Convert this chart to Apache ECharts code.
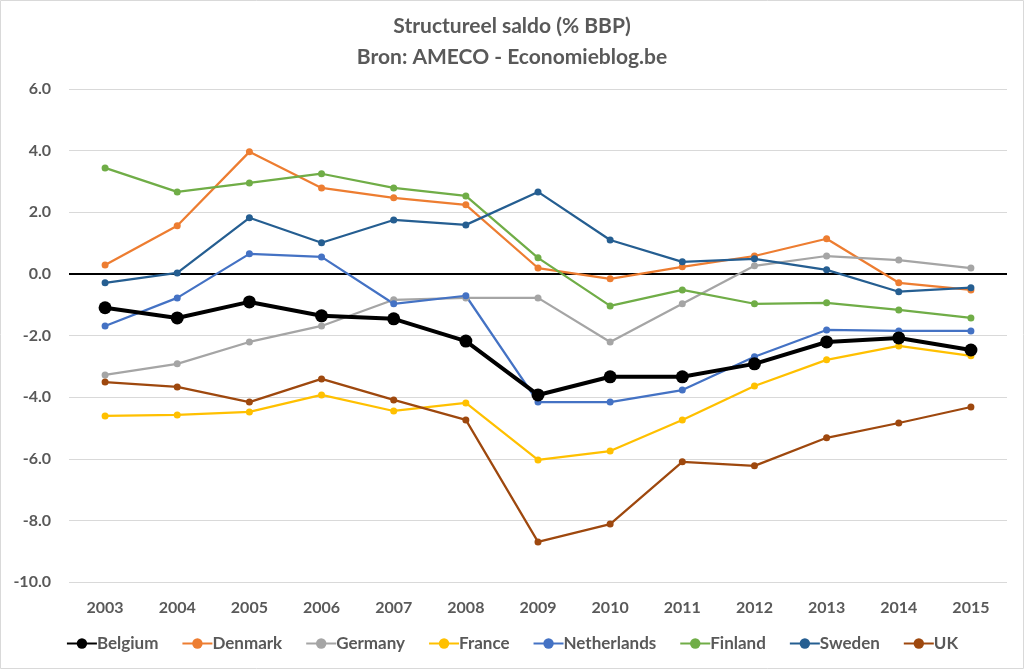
<!DOCTYPE html>
<html>
<head>
<meta charset="utf-8">
<script src="https://cdn.jsdelivr.net/npm/echarts@6/dist/echarts.min.js"></script>
<style>html,body{margin:0;padding:0;background:#fff}#c{width:1024px;height:669px}</style>
</head>
<body>
<div id="c"></div>
<script>
const years = ['2003','2004','2005','2006','2007','2008','2009','2010','2011','2012','2013','2014','2015'];
const belgium     = [-1.10,-1.43,-0.91,-1.36,-1.46,-2.18,-3.93,-3.34,-3.34,-2.92,-2.21,-2.08,-2.47];
const denmark     = [0.29,1.56,3.96,2.79,2.47,2.24,0.19,-0.16,0.23,0.58,1.14,-0.29,-0.52];
const germany     = [-3.28,-2.92,-2.21,-1.69,-0.84,-0.78,-0.78,-2.21,-0.97,0.26,0.58,0.45,0.19];
const france      = [-4.61,-4.58,-4.48,-3.93,-4.45,-4.19,-6.04,-5.75,-4.74,-3.64,-2.79,-2.34,-2.66];
const netherlands = [-1.69,-0.78,0.65,0.55,-0.97,-0.71,-4.16,-4.16,-3.77,-2.69,-1.82,-1.85,-1.85];
const finland     = [3.44,2.66,2.95,3.25,2.79,2.53,0.52,-1.04,-0.52,-0.97,-0.94,-1.17,-1.43];
const sweden      = [-0.29,0.03,1.82,1.01,1.75,1.59,2.66,1.10,0.39,0.49,0.13,-0.58,-0.45];
const uk          = [-3.51,-3.67,-4.16,-3.41,-4.09,-4.74,-8.70,-8.12,-6.10,-6.23,-5.32,-4.84,-4.32];

const names = ['Belgium','Denmark','Germany','France','Netherlands','Finland','Sweden','UK'];
const values = [belgium,denmark,germany,france,netherlands,finland,sweden,uk];
const colors = ['#000000','#ED7D31','#A5A5A5','#FFC000','#4472C4','#70AD47','#255E91','#9E480E'];

const font = 'Lato, "Open Sans", sans-serif';
const series = names.map((n,i)=>{
  const isB = i===0;
  const s = {
    name:n, type:'line', data:values[i],
    symbol:'circle', symbolSize: isB?13:7,
    lineStyle:{color:colors[i], width: isB?4:2.25},
    itemStyle:{color:colors[i]},
    z: isB?5:3
  };
  if (isB) {
    s.markLine = {silent:true, symbol:'none', label:{show:false},
      lineStyle:{color:'#000', width:2, type:'solid'},
      data:[{yAxis:0}], z:2};
  }
  return s;
});

const chart = echarts.init(document.getElementById('c'));
chart.setOption({
  animation:false,
  color:colors,
  graphic:[{type:'rect', shape:{x:0.5,y:0.5,width:1023,height:668}, style:{fill:'none', stroke:'#d9d9d9', lineWidth:1}, silent:true}],
  title:{
    text:'Structureel saldo (% BBP)\nBron: AMECO - Economieblog.be',
    left:'center', top:6,
    textStyle:{fontFamily:font, fontSize:21, fontWeight:'bold', color:'#595959', lineHeight:31}
  },
  legend:{
    bottom:12, left:'center', itemGap:23, itemWidth:30, itemHeight:13,
    textStyle:{fontFamily:font, fontSize:17, fontWeight:'bold', color:'#595959', padding:[0,0,0,-5]},
    data:names
  },
  grid:{left:69, right:17, top:89, bottom:87},
  xAxis:{
    type:'category', data:years, boundaryGap:true,
    axisLine:{show:false}, axisTick:{show:false},
    axisLabel:{fontFamily:font, fontSize:16, fontWeight:'bold', color:'#595959', margin:18}
  },
  yAxis:{
    type:'value', min:-10, max:6, interval:2,
    axisLine:{show:false}, axisTick:{show:false},
    splitLine:{lineStyle:{color:'#d9d9d9', width:1}},
    axisLabel:{fontFamily:font, fontSize:16, fontWeight:'bold', color:'#595959', margin:18,
      formatter:v=>v.toFixed(1)}
  },
  series:series
});
</script>
</body>
</html>
